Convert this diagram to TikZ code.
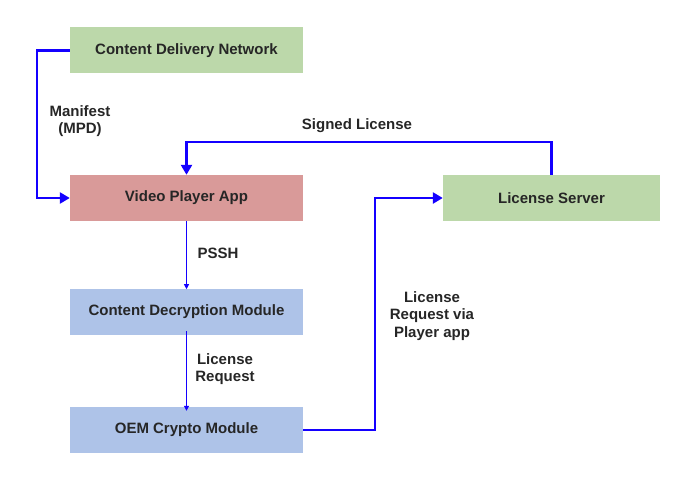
\documentclass[tikz,border=0pt]{standalone}
\usepackage{fontspec}
\setmainfont{Liberation Sans}
\usetikzlibrary{arrows.meta,positioning}
\definecolor{boxgreen}{HTML}{BCD8AA}
\definecolor{boxred}{HTML}{D99A99}
\definecolor{boxblue}{HTML}{AEC3E8}
\definecolor{lineblue}{HTML}{1400FF}
\definecolor{txt}{HTML}{262626}
\begin{document}
\begin{tikzpicture}[x=1pt,y=-1pt,
  box/.style={minimum width=233pt,minimum height=46pt,inner sep=0pt,font=\bfseries\fontsize{15}{17}\selectfont,text=txt},
  lbl/.style={font=\bfseries\fontsize{15}{17.5}\selectfont,text=txt,align=center},
  thick arrow/.style={draw=lineblue,line width=2.4pt,-{Triangle[length=10pt,width=11pt]}},
  thin arrow/.style={draw=lineblue,line width=1pt,-{Triangle[length=5pt,width=5pt]}}]
\useasboundingbox (0,0) rectangle (700,489);
\node[box,fill=boxgreen] (cdn) at (186.5,50.5) {Content Delivery Network};
\node[box,fill=boxred] (vpa) at (186.5,198) {Video Player App};
\node[box,fill=boxblue] (cdm) at (186.5,312) {Content Decryption Module};
\node[box,fill=boxblue] (oem) at (186.5,430) {OEM Crypto Module};
\node[box,fill=boxgreen,minimum width=217pt] (ls) at (551.5,198) {License Server};
\draw[thick arrow] (cdn.west) -- ++(-33,0) |- (vpa.west);
\draw[thick arrow] (ls.north) -- ++(0,-33) -| (vpa.north);
\draw[thick arrow] (oem.east) -- ++(72,0) |- (ls.west);
\draw[thin arrow] (vpa.south) -- ++(0,68);
\draw[thin arrow] ([yshift=4pt]cdm.south) -- ([yshift=-4pt]oem.north);
\node[lbl] (l1) at (80,121) {Manifest\\(MPD)};
\node[lbl] (l2) at (357,126) {Signed License};
\node[lbl] (l3) at (218,253) {PSSH};
\node[lbl] (l4) at (225,369) {License\\Request};
\node[lbl] (l5) at (432,316) {License\\Request via\\Player app};
\end{tikzpicture}
\end{document}
